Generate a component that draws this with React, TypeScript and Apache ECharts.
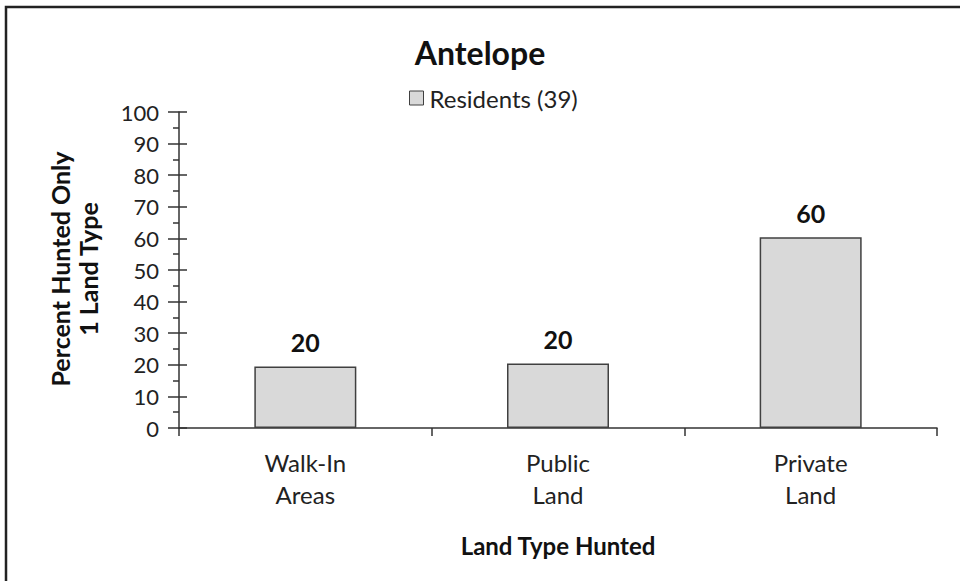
import React, { useEffect, useRef } from "react";
import * as echarts from "echarts";

const categories = ["Walk-In\nAreas", "Public\nLand", "Private\nLand"];
const residents = [19.5, 20.4, 60.4];
const seriesName = "Residents (39)";
const chartTitle = "Antelope";
const yTitle = "Percent Hunted Only\n1 Land Type";
const xTitle = "Land Type Hunted";

const FONT = "Lato, 'Open Sans', sans-serif";

export default function App() {
  const ref = useRef<HTMLDivElement>(null);
  useEffect(() => {
    document.body.style.margin = "0";
    const chart = echarts.init(ref.current!, null, { renderer: "svg" });
    chart.setOption({
      animation: false,
      backgroundColor: "#fff",
      textStyle: { fontFamily: FONT },
      title: {
        text: chartTitle,
        left: "center",
        top: 31,
        textStyle: { fontSize: 32, fontWeight: "bold", color: "#111", fontFamily: FONT },
      },
      legend: {
        left: 404,
        top: 81,
        itemWidth: 14,
        itemHeight: 14,
        itemGap: 10,
        textStyle: { fontSize: 24, color: "#222", fontFamily: FONT, padding: [0, 0, 0, 1] },
        data: [{ name: seriesName, icon: "rect", itemStyle: { color: "#d9d9d9", borderColor: "#404040", borderWidth: 1 } }],
      },
      grid: { left: 179, right: 23, top: 112, bottom: 153 },
      xAxis: {
        type: "category",
        data: categories,
        axisLine: { lineStyle: { color: "#333", width: 1.5 } },
        axisTick: { show: true, length: 8, lineStyle: { color: "#333", width: 1.5 } },
        axisLabel: { fontSize: 24, lineHeight: 32, margin: 18, color: "#222", fontFamily: FONT },
        name: xTitle,
        nameLocation: "middle",
        nameGap: 117,
        nameTextStyle: { fontSize: 24, fontWeight: "bold", color: "#111", verticalAlign: "middle", fontFamily: FONT },
      },
      yAxis: [
        {
          type: "value",
          min: 0,
          max: 100,
          interval: 10,
          splitLine: { show: false },
          axisLine: { show: true, lineStyle: { color: "#333", width: 1.5 } },
          axisTick: { show: true, length: 11, lineStyle: { color: "#333", width: 1.5 } },
          minorTick: { show: true, splitNumber: 2, length: 6, lineStyle: { color: "#333", width: 1.5 } },
          axisLabel: { fontSize: 22, margin: 20, color: "#222", fontFamily: FONT },
        },
        {
          type: "value",
          position: "left",
          min: 0,
          max: 100,
          interval: 10,
          splitLine: { show: false },
          axisLine: { show: false },
          axisTick: { show: true, inside: true, length: 8, lineStyle: { color: "#333", width: 1.5 } },
          axisLabel: { show: false },
        },
      ],
      series: [
        {
          name: seriesName,
          type: "bar",
          data: residents,
          barWidth: 102,
          itemStyle: { color: "#d9d9d9", borderColor: "#404040", borderWidth: 1.5 },
          label: {
            show: true,
            position: "top",
            distance: 12,
            fontSize: 25,
            fontWeight: "bold",
            color: "#111",
            fontFamily: FONT,
            formatter: (p: any) => String(Math.round(p.value)),
          },
        },
      ],
      graphic: [
        {
          type: "rect",
          shape: { x: 6, y: 7, width: 1000, height: 1000 },
          style: { fill: "none", stroke: "#222", lineWidth: 2.5 },
          silent: true,
        },
        {
          type: "text",
          x: 74,
          y: 269,
          rotation: Math.PI / 2,
          style: {
            text: yTitle,
            fontSize: 25,
            fontWeight: "bold",
            fontFamily: FONT,
            fill: "#111",
            lineHeight: 28,
            align: "center",
            verticalAlign: "middle",
          },
          silent: true,
        },
      ],
    });
    return () => chart.dispose();
  }, []);
  return <div ref={ref} style={{ width: 960, height: 581 }} />;
}
